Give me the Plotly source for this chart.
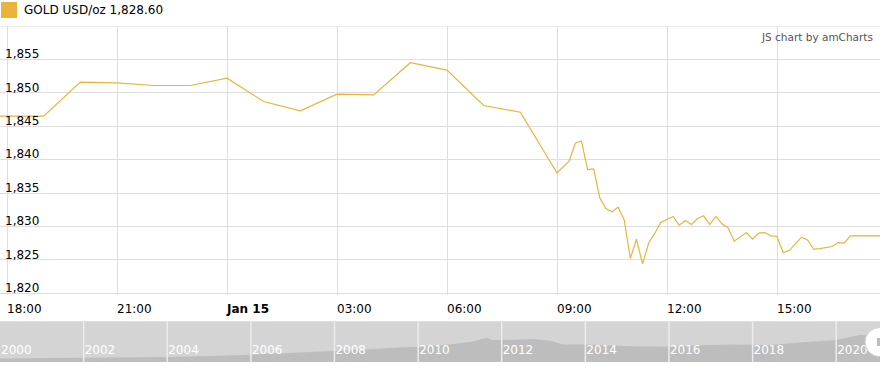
import plotly.graph_objects as go

# ---- main series: GOLD USD/oz, 14-15 Jan 2021 ----
times = [
    "2021-01-14 17:48", "2021-01-14 18:00", "2021-01-14 19:00", "2021-01-14 20:00",
    "2021-01-14 21:00", "2021-01-14 22:00", "2021-01-14 23:00", "2021-01-15 00:00",
    "2021-01-15 01:00", "2021-01-15 02:00", "2021-01-15 03:00", "2021-01-15 04:00",
    "2021-01-15 05:00", "2021-01-15 06:00", "2021-01-15 07:00", "2021-01-15 08:00",
    "2021-01-15 09:00", "2021-01-15 09:20", "2021-01-15 09:30", "2021-01-15 09:40",
    "2021-01-15 09:50", "2021-01-15 10:00", "2021-01-15 10:10", "2021-01-15 10:20",
    "2021-01-15 10:30", "2021-01-15 10:40", "2021-01-15 10:50", "2021-01-15 11:00",
    "2021-01-15 11:10", "2021-01-15 11:20", "2021-01-15 11:30", "2021-01-15 11:40",
    "2021-01-15 11:50", "2021-01-15 12:10", "2021-01-15 12:20", "2021-01-15 12:30",
    "2021-01-15 12:40", "2021-01-15 12:50", "2021-01-15 13:00", "2021-01-15 13:10",
    "2021-01-15 13:20", "2021-01-15 13:30", "2021-01-15 13:40", "2021-01-15 13:50",
    "2021-01-15 14:00", "2021-01-15 14:10", "2021-01-15 14:20", "2021-01-15 14:30",
    "2021-01-15 14:40", "2021-01-15 14:50", "2021-01-15 15:00", "2021-01-15 15:10",
    "2021-01-15 15:20", "2021-01-15 15:30", "2021-01-15 15:40", "2021-01-15 15:50",
    "2021-01-15 16:00", "2021-01-15 16:10", "2021-01-15 16:20", "2021-01-15 16:30",
    "2021-01-15 16:40", "2021-01-15 16:50", "2021-01-15 17:00", "2021-01-15 17:49",
]
prices = [
    1846.5, 1846.5, 1846.5, 1851.6,
    1851.5, 1851.1, 1851.1, 1852.2,
    1848.7, 1847.3, 1849.8, 1849.7,
    1854.5, 1853.4, 1848.1, 1847.1,
    1838.0, 1839.8, 1842.5, 1842.8,
    1838.5, 1838.6, 1834.3, 1832.7,
    1832.2, 1832.9, 1831.0, 1825.2,
    1828.1, 1824.4, 1827.5, 1829.0,
    1830.6, 1831.5, 1830.2, 1830.9,
    1830.3, 1831.2, 1831.6, 1830.3,
    1831.5, 1830.4, 1829.8, 1827.8,
    1828.5, 1829.1, 1828.1, 1829.0,
    1829.1, 1828.6, 1828.5, 1826.1,
    1826.4, 1827.4, 1828.4, 1828.0,
    1826.6, 1826.7, 1826.9, 1827.0,
    1827.6, 1827.5, 1828.6, 1828.6,
]

x_tickvals = ["2021-01-14 18:00", "2021-01-14 21:00", "2021-01-15 00:00", "2021-01-15 03:00",
              "2021-01-15 06:00", "2021-01-15 09:00", "2021-01-15 12:00", "2021-01-15 15:00"]
x_ticktext = ["18:00", "21:00", "<b>Jan 15</b>", "03:00", "06:00", "09:00", "12:00", "15:00"]
y_tickvals = [1820, 1825, 1830, 1835, 1840, 1845, 1850, 1855]
y_ticktext = ["1,820", "1,825", "1,830", "1,835", "1,840", "1,845", "1,850", "1,855"]

# ---- scroller (long-term overview) ----
scroll_dates = [
    "2000-01-01", "2001-01-01", "2002-01-01", "2003-01-01", "2004-01-01", "2005-01-01",
    "2006-01-01", "2007-03-01", "2008-01-01", "2008-10-01", "2009-07-01", "2010-01-01",
    "2010-10-01", "2011-04-15", "2011-08-25", "2011-10-15", "2012-01-01", "2012-10-01",
    "2013-03-01", "2013-06-20", "2014-01-01", "2014-05-01", "2015-02-20", "2016-01-01",
    "2016-10-01", "2017-07-15", "2018-05-01", "2019-02-20", "2020-01-01", "2020-07-25",
    "2021-01-18",
]
scroll_values = [
    270, 290, 317, 360, 400, 470,
    570, 746, 850, 984, 1143, 1190,
    1380, 1587, 1905, 1722, 1722, 1800,
    1667, 1380, 1380, 1325, 1245, 1190,
    1325, 1380, 1325, 1540, 1722, 2119,
    2100,
]
scroll_years = ["2000", "2002", "2004", "2006", "2008", "2010", "2012", "2014", "2016", "2018", "2020"]

LINE = "#e8b43c"
GRID = "#dedede"
FONT = "DejaVu Sans, Verdana, sans-serif"

fig = go.Figure()
fig.add_trace(go.Scatter(x=times, y=prices, mode="lines",
                         line=dict(color=LINE, width=1.2), xaxis="x", yaxis="y",
                         hoverinfo="skip", showlegend=False))
fig.add_trace(go.Scatter(x=scroll_dates, y=scroll_values, mode="lines", fill="tozeroy",
                         fillcolor="#bdbdbd", line=dict(width=0, color="#bdbdbd"),
                         xaxis="x2", yaxis="y2", hoverinfo="skip", showlegend=False))

H_TOP, H_BOT = 26, 7
plot_h = 369 - H_TOP - H_BOT
main_bottom = (369 - H_BOT - 295) / plot_h
scroll_top = (369 - H_BOT - 321.3) / plot_h
handle_y = (369 - H_BOT - 342) / plot_h

shapes = [
    # scroller background
    dict(type="rect", xref="x2 domain", yref="y2 domain", x0=0, x1=1, y0=0, y1=1,
         fillcolor="#d4d4d4", line=dict(width=0), layer="below"),
    # top gridline of main plot
    dict(type="line", xref="paper", yref="y", x0=0, x1=1, y0=1860, y1=1860,
         line=dict(color=GRID, width=1), layer="below"),
    # legend swatch
    dict(type="rect", xref="paper", yref="paper", xsizemode="pixel", ysizemode="pixel",
         xanchor=0, yanchor=1, x0=1, x1=17, y0=8, y1=24,
         fillcolor=LINE, line=dict(width=0)),
]
# scroller cell dividers (above the area)
for yr in scroll_years[1:]:
    shapes.append(dict(type="line", xref="x2", yref="y2 domain", x0=yr + "-01-01", x1=yr + "-01-01",
                       y0=0, y1=1, line=dict(color="#ececec", width=1.5), layer="above"))
# scroller handle
shapes += [
    dict(type="circle", xref="paper", yref="paper", xsizemode="pixel", ysizemode="pixel",
         xanchor=1, yanchor=handle_y, x0=-15, x1=14, y0=-14.5, y1=14.5,
         fillcolor="white", line=dict(color="#cfcfcf", width=1)),
    dict(type="rect", xref="paper", yref="paper", xsizemode="pixel", ysizemode="pixel",
         xanchor=1, yanchor=handle_y, x0=-3, x1=0, y0=-4, y1=4,
         fillcolor="#bdbdbd", line=dict(width=0)),
]

fig.update_layout(
    width=880, height=369,
    margin=dict(l=0, r=0, t=H_TOP, b=H_BOT, pad=0),
    paper_bgcolor="white", plot_bgcolor="white",
    font=dict(family=FONT, size=12, color="#000"),
    showlegend=False,
    xaxis=dict(
        type="date", domain=[0, 1], anchor="y",
        range=["2021-01-14 17:48:33", "2021-01-15 17:48:33"],
        tickmode="array", tickvals=x_tickvals, ticktext=x_ticktext,
        ticklabelposition="outside right", ticklabeloverflow="allow", ticklabelstandoff=5,
        ticks="", showgrid=True, gridcolor=GRID, gridwidth=1,
        zeroline=False, showline=False, tickfont=dict(size=12, color="#000"),
    ),
    yaxis=dict(
        domain=[main_bottom, 1], anchor="x",
        range=[1819.75, 1860],
        tickmode="array", tickvals=y_tickvals, ticktext=y_ticktext,
        ticklabelposition="inside top", ticklabelstandoff=2, ticklabelshift=3,
        ticklabeloverflow="allow", ticks="",
        showgrid=True, gridcolor=GRID, gridwidth=1,
        zeroline=False, showline=False, tickfont=dict(size=12, color="#000"),
    ),
    xaxis2=dict(
        type="date", domain=[0, 1], anchor="y2",
        range=["2000-01-01", "2021-01-18"],
        tickmode="array", tickvals=[y + "-01-01" for y in scroll_years], ticktext=scroll_years,
        ticklabelposition="inside right", ticklabeloverflow="allow", ticklabelshift=1, ticks="",
        showgrid=False, zeroline=False, showline=False,
        tickfont=dict(size=12, color="white"), layer="above traces",
    ),
    yaxis2=dict(
        domain=[0, scroll_top], anchor="x2", range=[0, 3200],
        showgrid=False, zeroline=False, showticklabels=False, ticks="",
    ),
    shapes=shapes,
    annotations=[
        dict(text="GOLD USD/oz 1,828.60", xref="paper", yref="paper", x=0, y=1,
             xanchor="left", yanchor="middle", xshift=22, yshift=16, showarrow=False,
             font=dict(family=FONT, size=12, color="#000")),
        dict(text="JS chart by amCharts", xref="paper", yref="paper", x=1, y=1,
             xanchor="right", yanchor="middle", xshift=-5, yshift=-11, showarrow=False,
             font=dict(family=FONT, size=10.5, color="#555")),
    ],
)

fig.write_html("out.html", config={"displayModeBar": False})
